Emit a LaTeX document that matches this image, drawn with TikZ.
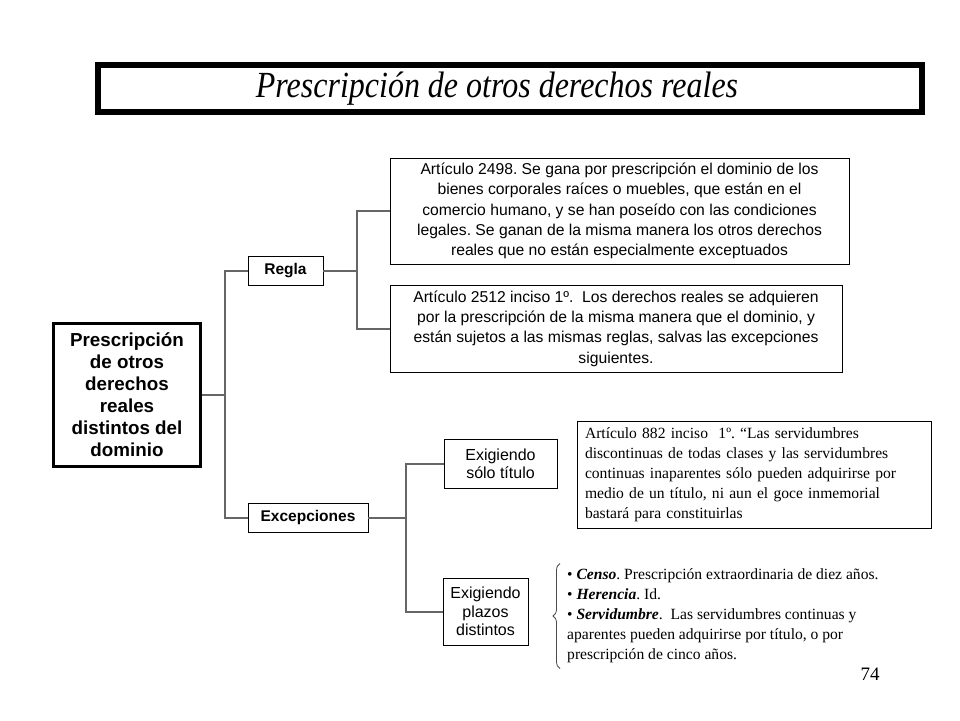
\documentclass[tikz,border=0pt]{standalone}
\usepackage{graphicx}
\usepackage{fontspec}
\setmainfont{Liberation Serif}
\setsansfont{Liberation Sans}
\usetikzlibrary{positioning, decorations.pathreplacing}
\frenchspacing

\begin{document}
\begin{tikzpicture}[
    x=1pt, y=-1pt,
    box/.style={draw, line width=0.9pt, inner sep=0pt, align=center, font=\sffamily\fontsize{15.7}{20.3}\selectfont},
    head/.style={box, font=\sffamily\bfseries\fontsize{15.5}{18}\selectfont, minimum height=29pt},
    case/.style={box, font=\sffamily\fontsize{16}{18.3}\selectfont},
    note/.style={align=left, font=\fontsize{15.6}{20}\selectfont},
    link/.style={draw=black!60, line width=2pt}
]
\useasboundingbox[fill=white] (0,0) rectangle (960,720);

\node[draw, line width=6pt, minimum width=824pt, minimum height=47pt, inner sep=0pt] (title) at (510,88.5)
    {\hspace*{-26pt}\raisebox{-2pt}{\scalebox{1}[1.15]{\fontsize{32}{36}\selectfont\itshape Prescripción de otros derechos reales}}};

\node[box, line width=2.5pt, font=\sffamily\bfseries\fontsize{18.8}{22}\selectfont, minimum width=147pt, minimum height=143pt] (main) at (127,395)
    {Prescripción\\de otros\\derechos\\reales\\distintos del\\dominio};

\node[head, minimum width=75pt] (regla) at (285.5,270.5) {Regla};
\node[head, minimum width=120pt] (excep) at (308,517.5) {Excepciones};

\node[box, minimum width=459pt, minimum height=106pt] (art1) at (619.5,211)
    {Artículo 2498. Se gana por prescripción el dominio de los\\
     bienes corporales raíces o muebles, que están en el\\
     comercio humano, y se han poseído con las condiciones\\
     legales. Se ganan de la misma manera los otros derechos\\
     reales que no están especialmente exceptuados};
\node[box, minimum width=452pt, minimum height=87pt] (art2) at (616,328.5)
    {Artículo 2512 inciso 1º.\ \ Los derechos reales se adquieren\\
     por la prescripción de la misma manera que el dominio, y\\
     están sujetos a las mismas reglas, salvas las excepciones\\
     siguientes.};

\node[case, minimum width=113pt, minimum height=49pt] (solo) at (500.5,463.5) {Exigiendo\\sólo título};
\node[case, minimum width=85pt, minimum height=67pt] (plazos) at (485.5,611.5) {Exigiendo\\plazos\\distintos};

\node[draw, line width=0.9pt, note, text width=338pt, inner xsep=8pt, minimum height=107pt] (art3) at (754,474.5)
    {Artículo 882 inciso\ \ 1º. “Las servidumbres\\
     discontinuas de todas clases y las servidumbres\\
     continuas inaparentes\ sólo pueden adquirirse por\\
     medio de un título, ni aun el\ goce inmemorial\\
     bastará para\ constituirlas};

\node[note, inner sep=0pt, anchor=west] (lista) at (567,615.5)
    {\textbullet\ \textbf{\textit{Censo}}. Prescripción\ extraordinaria de diez años.\\
     \textbullet\ \textbf{\textit{Herencia}}. Id.\\
     \textbullet\ \textbf{\textit{Servidumbre}}.\ \ Las servidumbres continuas y\\
     aparentes pueden adquirirse por título, o por\\
     prescripción\ de cinco años.};

\node[font=\fontsize{19}{22}\selectfont] (pagina) at (870,674) {74};

\draw[link] (main.east) -- +(23,0) |- (regla.west);
\draw[link] (main.east) -- +(23,0) |- (excep.west);
\draw[link] (regla.east) -- +(34,0) |- (art1.west);
\draw[link] (regla.east) -- +(34,0) |- (art2.west);
\draw[link] (excep.east) -- +(38,0) |- (solo.west);
\draw[link] (excep.east) -- +(38,0) |- (plazos.west);
\draw[black!70, line width=0.8pt, decorate, decoration={brace, amplitude=7pt}]
    ([xshift=-7pt,yshift=-53pt]lista.west) -- ([xshift=-7pt,yshift=52pt]lista.west);
\end{tikzpicture}
\end{document}
